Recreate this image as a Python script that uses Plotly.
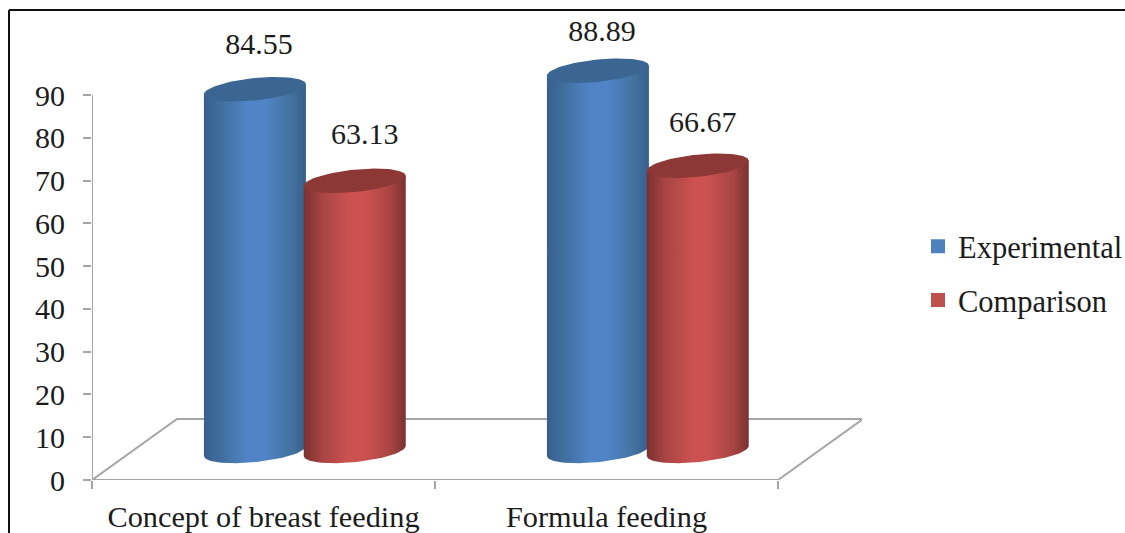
import numpy as np
import plotly.graph_objects as go

# ---- data ----
categories = ["Concept of breast feeding", "Formula feeding"]
experimental = [84.55, 88.89]
comparison = [63.13, 66.67]
y_ticks = [0, 10, 20, 30, 40, 50, 60, 70, 80, 90]

# ---- geometry of the pseudo-3D look (axis units) ----
PX_X = 343.0          # pixels per category
PX_Y = 385 / 90       # pixels per y unit
DEPTH_Y = 6.8         # cylinder floor lift
FLOOR_DX = 85 / PX_X
FLOOR_DY = 61 / PX_Y
WIDTH = 102 / PX_X
RX = WIDTH / 2
RY = 11.2 / PX_Y
SHEAR = 5 / PX_Y
DX = {"Experimental": -0.025, "Comparison": 0.266}
LABEL_LIFT = {"Experimental": [43, 37], "Comparison": [44, 41]}
LABEL_SHIFT = {"Experimental": [4, 4], "Comparison": [10, 5]}
T_LOW = np.linspace(np.pi, 0, 48)

STYLE = {
    "Experimental": dict(
        swatch="#4f81bd", top="#3b6593",
        scale=[[0, "#375f8e"], [0.18, "#41709f"], [0.42, "#5084c6"], [0.6, "#5084c6"],
               [0.85, "#44729f"], [1, "#375f8e"]]),
    "Comparison": dict(
        swatch="#c0504d", top="#8c3836",
        scale=[[0, "#7a3130"], [0.18, "#a84543"], [0.45, "#cb5250"], [0.6, "#cb5250"],
               [0.85, "#a84543"], [1, "#7a3130"]]),
}
GREY = "#a6a6a6"
INK = "#1c1c1c"
FONT = "Liberation Serif"

fig = go.Figure()

# real bars carry the values and the legend; the shaded cylinders sit on top of them
for name, vals in (("Experimental", experimental), ("Comparison", comparison)):
    fig.add_trace(go.Bar(
        name=name, x=[i + DX[name] for i in range(len(vals))], y=vals, base=DEPTH_Y,
        width=WIDTH * 0.8,
        marker=dict(color=STYLE[name]["swatch"], line=dict(width=2, color=STYLE[name]["swatch"])),
        legendgroup=name, hoverinfo="skip"))

# floor and value axis line
fig.add_trace(go.Scatter(
    x=[-0.5, 1.5, 1.5 + FLOOR_DX, -0.5 + FLOOR_DX, -0.5],
    y=[0, 0, FLOOR_DY, FLOOR_DY, 0],
    mode="lines", line=dict(color=GREY, width=2), showlegend=False, hoverinfo="skip"))
fig.add_trace(go.Scatter(
    x=[-0.5, -0.5], y=[y_ticks[0], y_ticks[-1]],
    mode="lines", line=dict(color=GREY, width=2), showlegend=False, hoverinfo="skip", cliponaxis=False))

# cylinders
for name, vals in (("Experimental", experimental), ("Comparison", comparison)):
    st = STYLE[name]
    for i, v in enumerate(vals):
        cx = i + DX[name]
        top_y = v + DEPTH_Y
        low_x = cx + RX * np.cos(T_LOW)
        low_y = DEPTH_Y - RY * np.sin(T_LOW) + SHEAR * np.cos(T_LOW)
        bx = np.r_[low_x, cx + RX, cx - RX, low_x[0]]
        by = np.r_[low_y, top_y + SHEAR, top_y - SHEAR, low_y[0]]
        fig.add_trace(go.Scatter(
            x=bx, y=by, mode="lines", line=dict(width=0), fill="toself",
            fillgradient=dict(type="horizontal", colorscale=st["scale"]),
            showlegend=False, hoverinfo="skip"))
        t = np.linspace(0, 2 * np.pi, 96)
        fig.add_trace(go.Scatter(
            x=cx + RX * np.cos(t), y=top_y + RY * np.sin(t) + SHEAR * np.cos(t),
            mode="lines", line=dict(width=0), fill="toself", fillcolor=st["top"],
            showlegend=False, hoverinfo="skip"))

# value labels
for name, vals in (("Experimental", experimental), ("Comparison", comparison)):
    fig.add_trace(go.Scatter(
        x=[i + DX[name] + s / PX_X for i, s in enumerate(LABEL_SHIFT[name])],
        y=[v + DEPTH_Y + lift / PX_Y for v, lift in zip(vals, LABEL_LIFT[name])],
        mode="text", text=[f"{v:.2f}" for v in vals], textposition="middle center",
        textfont=dict(family=FONT, size=30, color=INK),
        showlegend=False, hoverinfo="skip", cliponaxis=False))

L, R, T, B = 92, 263, 15, 53
fig.update_layout(
    width=1125, height=533, margin=dict(l=L, r=R, t=T, b=B, autoexpand=False),
    paper_bgcolor="white", plot_bgcolor="white", barmode="overlay",
    font=dict(family=FONT, size=30, color=INK),
    legend=dict(x=(918 - L) / (1125 - L - R), y=1 - (220 - T) / (533 - T - B),
                xanchor="left", yanchor="top", tracegroupgap=11,
                font=dict(family=FONT, size=30.5, color=INK), bgcolor="rgba(0,0,0,0)",
                traceorder="grouped"),
    xaxis=dict(range=[-0.5, -0.5 + (1125 - L - R) / PX_X], showgrid=False, zeroline=False, showline=False,
               tickmode="array", tickvals=[0, 1], ticktext=categories, ticks="",
               ticklabelstandoff=16,
               tickfont=dict(family=FONT, size=30.3, color=INK),
               minor=dict(ticks="outside", tickmode="array", tickvals=[-0.5, 0.5, 1.5],
                          ticklen=8, tickwidth=2, tickcolor=GREY, showgrid=False)),
    yaxis=dict(range=[0, (533 - T - B) / PX_Y], showgrid=False, zeroline=False, showline=False,
               tickmode="array", tickvals=y_ticks, ticks="outside", ticklen=8, tickwidth=2,
               tickcolor=GREY, ticklabelstandoff=12,
               tickfont=dict(family=FONT, size=30, color=INK)),
    shapes=[
        dict(type="line", xref="paper", yref="paper",
             x0=(9 - L) / (1125 - L - R), x1=(1125 - L) / (1125 - L - R),
             y0=1 - (10 - T) / (533 - T - B), y1=1 - (10 - T) / (533 - T - B),
             line=dict(color="#111111", width=2)),
        dict(type="line", xref="paper", yref="paper",
             x0=(9 - L) / (1125 - L - R), x1=(9 - L) / (1125 - L - R),
             y0=1 - (10 - T) / (533 - T - B), y1=1 - (533 - T) / (533 - T - B),
             line=dict(color="#111111", width=2)),
    ],
)

fig.write_html("out.html", config=dict(displayModeBar=False),
               post_script="document.body.style.margin='0';document.body.style.overflow='hidden';")
